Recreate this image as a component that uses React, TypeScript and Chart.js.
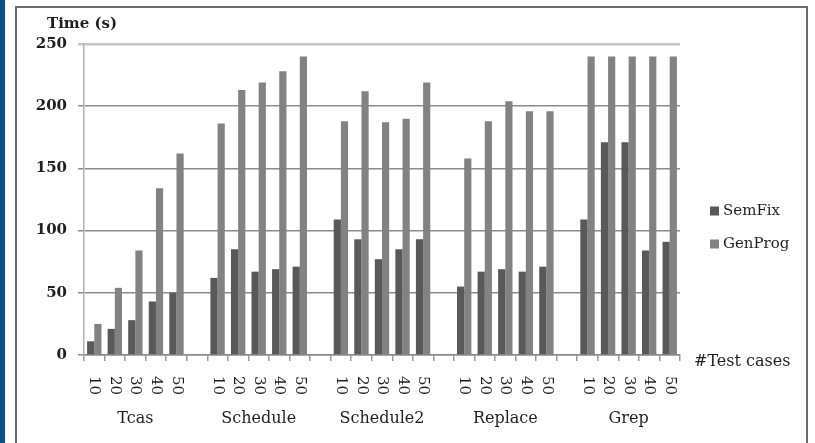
import React, { useEffect, useRef } from "react";
import { Chart, registerables } from "chart.js";

Chart.register(...registerables);

const groups = ["Tcas", "Schedule", "Schedule2", "Replace", "Grep"];
const testCases = ["10", "20", "30", "40", "50"];

const semFixTcas = [11, 21, 28, 43, 50];
const semFixSchedule = [62, 85, 67, 69, 71];
const semFixSchedule2 = [109, 93, 77, 85, 93];
const semFixReplace = [55, 67, 69, 67, 71];
const semFixGrep = [109, 171, 171, 84, 91];

const genProgTcas = [25, 54, 84, 134, 162];
const genProgSchedule = [186, 213, 219, 228, 240];
const genProgSchedule2 = [188, 212, 187, 190, 219];
const genProgReplace = [158, 188, 204, 196, 196];
const genProgGrep = [240, 240, 240, 240, 240];

const yTicks = [0, 50, 100, 150, 200, 250];

const semFixGroups = [semFixTcas, semFixSchedule, semFixSchedule2, semFixReplace, semFixGrep];
const genProgGroups = [genProgTcas, genProgSchedule, genProgSchedule2, genProgReplace, genProgGrep];

// Build flat category list with a blank slot between groups
const categories: string[] = [];
const semFixData: (number | null)[] = [];
const genProgData: (number | null)[] = [];
const groupRanges: [number, number][] = [];
groups.forEach((g, gi) => {
  if (gi > 0) {
    categories.push("");
    semFixData.push(null);
    genProgData.push(null);
  }
  const start = categories.length;
  testCases.forEach((t, ti) => {
    categories.push(t);
    semFixData.push(semFixGroups[gi][ti]);
    genProgData.push(genProgGroups[gi][ti]);
  });
  groupRanges.push([start, categories.length - 1]);
});

const FONT = '"DejaVu Serif"';
const TEXT = "#1f1f1f";
const SEMFIX_COLOR = "#595959";
const GENPROG_COLOR = "#828282";

const textPlugin = {
  id: "extraText",
  afterDraw(chart: any) {
    const ctx = chart.ctx as CanvasRenderingContext2D;
    const xs = chart.scales.x;
    const area = chart.chartArea;
    ctx.save();
    ctx.fillStyle = TEXT;

    // rotated test-case tick labels
    ctx.font = `15px ${FONT}`;
    categories.forEach((lab, i) => {
      if (!lab) return;
      const px = xs.getPixelForValue(i);
      ctx.save();
      ctx.translate(px, area.bottom + 21);
      ctx.rotate(Math.PI / 2);
      ctx.textAlign = "left";
      ctx.textBaseline = "middle";
      ctx.fillText(lab, 0, 0);
      ctx.restore();
    });

    // group labels
    ctx.font = `16px ${FONT}`;
    ctx.textAlign = "center";
    ctx.textBaseline = "middle";
    groupRanges.forEach(([s, e], gi) => {
      const cx = (xs.getPixelForValue(s) + xs.getPixelForValue(e)) / 2;
      ctx.fillText(groups[gi], cx, area.bottom + 64);
    });

    // axis titles
    ctx.textAlign = "left";
    ctx.font = `bold 15px ${FONT}`;
    ctx.fillText("Time (s)", 47, 24);
    ctx.font = `16px ${FONT}`;
    ctx.fillText("#Test cases", 694, area.bottom + 7);

    // legend
    const items = [
      { label: "SemFix", color: SEMFIX_COLOR, y: 211 },
      { label: "GenProg", color: GENPROG_COLOR, y: 244 },
    ];
    ctx.font = `15px ${FONT}`;
    items.forEach((it) => {
      ctx.fillStyle = it.color;
      ctx.fillRect(710, it.y - 4.5, 9, 9);
      ctx.fillStyle = TEXT;
      ctx.fillText(it.label, 723, it.y);
    });
    ctx.restore();
  },
};

export default function App() {
  const ref = useRef<HTMLCanvasElement | null>(null);
  useEffect(() => {
    if (!ref.current) return;
    const chart = new Chart(ref.current, {
      type: "bar",
      data: {
        labels: categories,
        datasets: [
          {
            label: "SemFix",
            data: semFixData,
            backgroundColor: SEMFIX_COLOR,
            categoryPercentage: 0.7,
            barPercentage: 1,
          },
          {
            label: "GenProg",
            data: genProgData,
            backgroundColor: GENPROG_COLOR,
            categoryPercentage: 0.7,
            barPercentage: 1,
          },
        ],
      },
      options: {
        responsive: false,
        animation: false,
        layout: { padding: { left: 0, top: 44, right: 135, bottom: 0 } },
        plugins: {
          legend: { display: false },
          tooltip: { enabled: false },
        },
        scales: {
          x: {
            offset: true,
            ticks: { display: false },
            grid: {
              display: true,
              offset: true,
              drawOnChartArea: false,
              drawTicks: true,
              tickLength: 6,
              color: "#9a9a9a",
              lineWidth: 1.5,
            },
            border: { display: true, color: "#8a8a8a", width: 1.5 },
            afterFit: (s: any) => {
              s.height = 88;
            },
          },
          y: {
            min: 0,
            max: 250,
            afterBuildTicks: (s: any) => {
              s.ticks = yTicks.map((v) => ({ value: v }));
            },
            ticks: {
              color: TEXT,
              font: { family: "DejaVu Serif", size: 15, weight: "bold" },
              padding: 11,
            },
            grid: {
              color: (c: any) => (c.tick && c.tick.value === 250 ? "#c6c6c6" : "#8c8c8c"),
              lineWidth: (c: any) => (c.tick && c.tick.value === 250 ? 2.5 : 1.5),
              tickLength: 6,
            },
            border: { display: true, color: "#b0b0b0", width: 1.5 },
            afterFit: (s: any) => {
              s.width = 84;
            },
          },
        },
      },
      plugins: [textPlugin],
    });
    return () => chart.destroy();
  }, []);

  return (
    <div
      style={{
        position: "fixed",
        left: 0,
        top: 0,
        width: 815,
        height: 443,
        background: "#ffffff",
        overflow: "hidden",
      }}
    >
      <div
        style={{
          position: "absolute",
          left: 0,
          top: 0,
          width: 5,
          height: 443,
          background: "#0b5182",
        }}
      />
      <div
        style={{
          position: "absolute",
          left: 15,
          top: 6,
          width: 793,
          height: 460,
          border: "2px solid #6a6a6a",
          boxSizing: "border-box",
        }}
      />
      <canvas
        ref={ref}
        width={815}
        height={443}
        style={{ position: "absolute", left: 0, top: 0 }}
      />
    </div>
  );
}
